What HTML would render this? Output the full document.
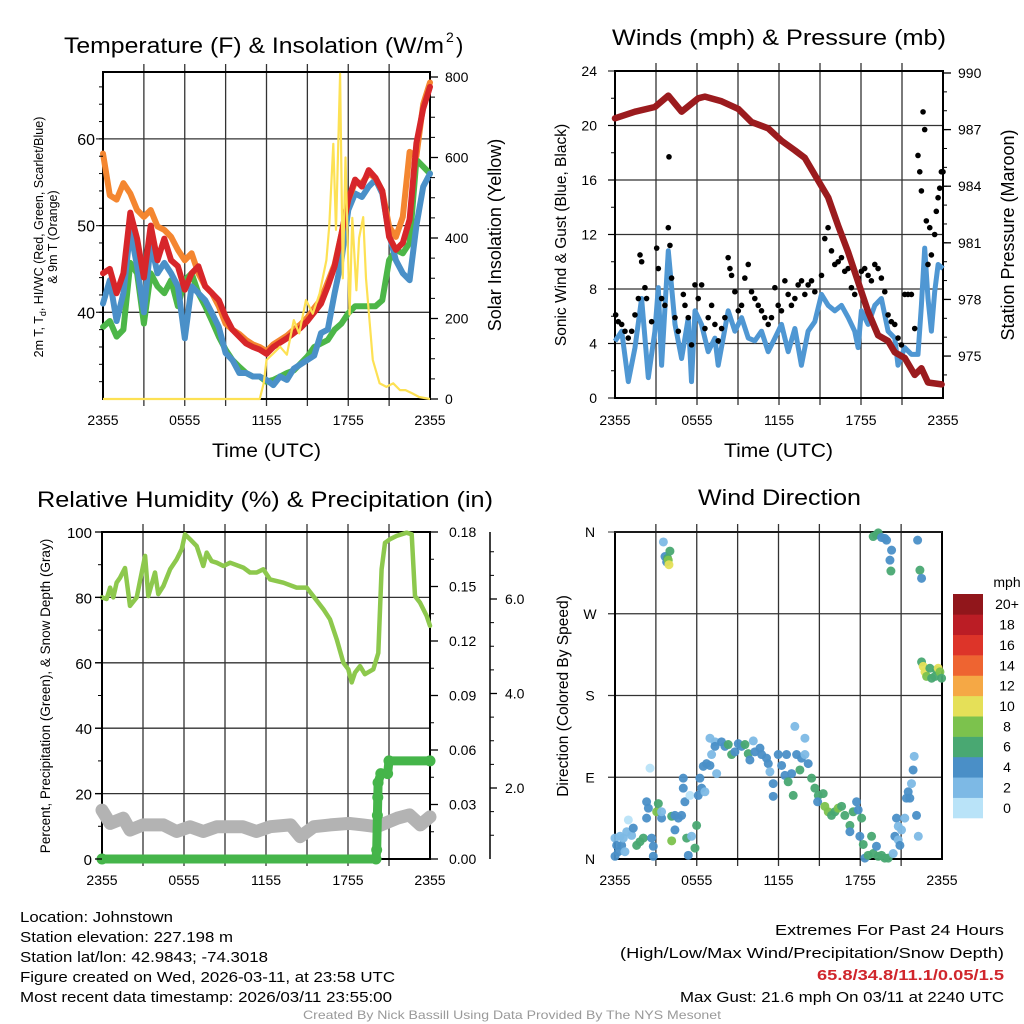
<!DOCTYPE html>
<html><head><meta charset="utf-8"><style>
html,body{margin:0;padding:0;background:#fff;}
svg{display:block;font-family:"Liberation Sans",Arial,sans-serif;}
</style></head><body>
<svg id="fig" width="1024" height="1024" viewBox="0 0 1024 1024" xmlns="http://www.w3.org/2000/svg">
<rect width="1024" height="1024" fill="#fff"/>
<g id="p1"></g>
<g id="p2"></g>
<g id="p3"></g>
<g id="p4"></g>
<g id="txt">
<text x="64" y="53" font-size="22" textLength="380" lengthAdjust="spacingAndGlyphs">Temperature (F) &amp; Insolation (W/m</text>
<text x="446" y="42" font-size="14">2</text>
<text x="456" y="53" font-size="22">)</text>
<text x="612" y="45" font-size="22" textLength="334" lengthAdjust="spacingAndGlyphs">Winds (mph) &amp; Pressure (mb)</text>
<text x="37" y="507" font-size="22" textLength="456" lengthAdjust="spacingAndGlyphs">Relative Humidity (%) &amp; Precipitation (in)</text>
<text x="698" y="505" font-size="22" textLength="163" lengthAdjust="spacingAndGlyphs">Wind Direction</text>
<text x="212" y="457" font-size="19" textLength="109" lengthAdjust="spacingAndGlyphs">Time (UTC)</text>
<text x="724" y="457" font-size="19" textLength="109" lengthAdjust="spacingAndGlyphs">Time (UTC)</text>
<text transform="translate(43,237) rotate(-90)" text-anchor="middle" font-size="12.5">2m T, T<tspan font-size="9" dy="3">d</tspan><tspan dy="-3">, HI/WC (Red, Green, Scarlet/Blue)</tspan></text>
<text transform="translate(57,237) rotate(-90)" text-anchor="middle" font-size="12.5">&amp; 9m T (Orange)</text>
<text transform="translate(501,235) rotate(-90)" text-anchor="middle" font-size="18">Solar Insolation (Yellow)</text>
<text transform="translate(566,235) rotate(-90)" text-anchor="middle" font-size="15.5">Sonic Wind &amp; Gust (Blue, Black)</text>
<text transform="translate(1014,235) rotate(-90)" text-anchor="middle" font-size="18">Station Pressure (Maroon)</text>
<text transform="translate(50,696) rotate(-90)" text-anchor="middle" font-size="13.5">Percent, Precipitation (Green), &amp; Snow Depth (Gray)</text>
<text transform="translate(568,696) rotate(-90)" text-anchor="middle" font-size="15.5">Direction (Colored By Speed)</text>
<g font-size="15">
<text x="20" y="922" textLength="153" lengthAdjust="spacingAndGlyphs">Location: Johnstown</text>
<text x="20" y="942" textLength="213" lengthAdjust="spacingAndGlyphs">Station elevation: 227.198 m</text>
<text x="20" y="962" textLength="248" lengthAdjust="spacingAndGlyphs">Station lat/lon: 42.9843; -74.3018</text>
<text x="20" y="982" textLength="375" lengthAdjust="spacingAndGlyphs">Figure created on Wed, 2026-03-11, at 23:58 UTC</text>
<text x="20" y="1002" textLength="372" lengthAdjust="spacingAndGlyphs">Most recent data timestamp: 2026/03/11 23:55:00</text>
<text x="775" y="935" textLength="229" lengthAdjust="spacingAndGlyphs">Extremes For Past 24 Hours</text>
<text x="620" y="958" textLength="384" lengthAdjust="spacingAndGlyphs">(High/Low/Max Wind/Precipitation/Snow Depth)</text>
<text x="817" y="980" fill="#d0262c" font-weight="bold" textLength="187" lengthAdjust="spacingAndGlyphs">65.8/34.8/11.1/0.05/1.5</text>
<text x="680" y="1002" textLength="324" lengthAdjust="spacingAndGlyphs">Max Gust: 21.6 mph On 03/11 at 2240 UTC</text>
</g>
<text x="303" y="1019" font-size="12" fill="#999" textLength="418" lengthAdjust="spacingAndGlyphs">Created By Nick Bassill Using Data Provided By The NYS Mesonet</text>
</g>
</svg>
<script>
// ===== Panel 1 data (half-hour steps from 2355) =====
const tempRed = [44.5,45,42.2,44.5,51.5,48.5,44,50,46,48.5,46,45.3,42.6,44.5,45.3,43,42.2,41.4,39.5,38,37.2,36.4,36,35.7,35.2,36,36.5,37,37.6,38.2,39,40,41,43,45.3,49,53,55.3,54.5,56.4,55.5,54,48.7,47.2,48,50.7,59.5,63.5,66];
const temp9m = [58.3,53.5,53,54.9,53.7,51.8,51,51.8,49.9,49.5,48.7,47.2,46,46.8,44.5,43,42.2,40.7,38.7,38,37.5,36.8,36.3,36,35.5,36.3,36.8,37.3,38,38.6,39.4,40.5,41.5,43.5,45.5,49,53,55,54.9,56,55.5,54,49.9,48.7,51,58.5,58,64,66.5];
const tempHiWc = [41,43.7,39,42.2,49.5,45.3,40,48,44.5,45.7,44.5,43,37,43,42.2,41.4,39.9,38.3,35.3,34.5,33,33,32.6,32.6,32.2,31.6,32.6,32.2,33.5,34,34.5,35,37.6,38,42.2,46,51.8,53.7,53.3,54.5,55.3,53.7,49,46,44.5,43.7,50,54.5,56];
const tempDew = [38.3,39,37.2,38,45.7,44.5,38.7,44.5,43,42.2,43.7,40.7,43.7,44.5,42.2,40.7,39,37.2,35.7,34.5,33.7,33,32.6,32.6,32,32.2,32.6,33,33.3,34.1,34.9,36,36.4,36.8,38,38.7,39.9,40.7,40.7,40.7,40.7,41.4,46,47.2,46.8,48,57.6,56.8,56];
const solarHours = [0,11.5,11.8,12,12.5,13,13.5,14,14.4,14.9,15.4,15.9,16.4,16.6,16.9,17.1,17.4,17.6,17.8,18.1,18.3,18.6,18.8,19.1,19.3,19.8,20.3,20.8,21.3,21.8,22.2,22.7,23.2,24];
const solarWm2 = [0,0,40,97,113,130,110,196,163,246,212,262,345,428,634,420,808,300,600,210,450,270,400,452,300,97,39,30,39,22,22,14,5,0];
const tempTicks = [40,50,60];
const solarTicks = [0,200,400,600,800];
const timeLabels = ['2355','0555','1155','1755','2355'];
const timeTickHours = [0,6,12,18,24];

// ===== Panel 2 data =====
const pressHours = [0,1.46,2.92,3.9,4.87,6.09,6.58,7.8,9.02,9.99,11.2,12.2,13.16,13.89,14.62,15.6,16.33,17.06,17.8,18.52,19.25,19.98,20.47,21.2,21.93,22.42,22.9,23.9];
const pressMb = [987.6,987.95,988.2,988.8,987.95,988.66,988.75,988.5,988.1,987.4,987.07,986.4,985.9,985.5,984.6,983.4,981.9,980.5,978.9,977.35,976.1,975.8,975.2,974.9,974,974.35,973.6,973.5];
const windHours = [0,0.49,0.97,1.46,1.95,2.44,2.92,3.17,3.41,3.9,4.39,4.87,5.36,5.6,5.85,6.33,6.82,7.31,7.55,8.28,8.77,9.26,9.75,10.23,10.72,11.21,11.7,12.18,12.67,13.16,13.64,14.13,14.62,15.11,15.6,16.08,16.57,17.06,17.54,17.79,18.03,18.52,19.01,19.49,19.98,20.47,20.71,21.2,21.69,22.17,22.42,22.66,22.9,23.15,23.39,23.64,24];
const windMph = [4.16,4.9,1.2,3.7,7.3,1.5,4.9,8.1,2.4,10.8,5.4,2.9,5.9,1.2,6.4,5.4,3.4,4.4,2.4,6.4,4.9,5.9,4.4,4.2,4.9,3.4,4.4,5.4,3.4,5.1,2.4,4.9,5.6,7.6,6.8,6.4,6.8,5.9,4.9,3.7,6.4,5.4,6.8,7.3,4.9,4.4,2.4,3.7,3.2,3.2,6.8,11,7.3,4.9,7.8,9.8,9.5];
const gustHours = [0.05,0.24,0.49,0.73,0.97,1.22,1.46,1.71,1.83,1.95,2.19,2.31,2.68,3.05,3.17,3.41,3.65,3.9,4.02,3.95,4.14,4.39,4.63,5,5.12,5.36,5.6,5.85,6.09,6.34,6.58,6.82,7.07,7.31,7.55,7.8,8.04,8.28,8.41,8.53,8.77,9.02,9.26,9.5,9.75,9.99,10.23,10.48,10.72,10.96,11.21,11.45,11.7,11.94,12.18,12.43,12.67,12.91,13.16,13.4,13.65,13.89,14.13,14.38,14.62,15.11,15.35,15.59,15.84,16.08,16.33,16.57,16.81,17.06,17.3,17.54,17.79,18.03,18.27,18.52,18.76,19.01,19.25,19.49,19.74,19.98,20.22,20.47,20.71,20.96,21.2,21.44,21.69,21.93,22.17,22.3,22.42,22.54,22.66,22.78,22.9,23.03,23.15,23.39,23.51,23.64,23.76,23.88,24];
const gustMph = [6.1,5.6,5.4,4.9,4.4,4.9,6.1,7.3,10.5,10,8.1,7.3,5.6,11,9.5,7.3,6.8,12.5,11.2,17.7,8.8,5.9,4.9,7.6,6.8,5.9,3.9,8.3,7.3,8.3,5.1,5.9,6.8,5.4,4.2,5.1,5.9,10.3,9.5,9,7.8,6.4,6.8,8.8,9.8,7.8,7.3,6.8,6.4,5.9,5.4,5.9,8.1,6.8,6.4,8.6,7.6,6.8,7.3,8.3,8.6,7.6,8.3,8.6,7.8,9,11.7,12.5,10.8,9.8,10,10.3,9.3,9.5,8.1,7.6,8.8,9.3,9.5,9,8.6,9.8,9.5,8.8,7.8,6.1,5.6,5.4,4.4,3.9,7.6,7.6,7.6,5.1,17.8,16.6,15.2,21,19.7,13,9.8,12.5,10.5,12,13.7,14.7,15.4,16.6,16.6];
const windTicks = [0,4,8,12,16,20,24];
const pressTicks = [975,978,981,984,987,990];

// ===== Panel 3 data =====
const rhHours = [0,0.34,0.59,0.83,1.07,1.32,1.68,2.05,2.54,2.78,3.15,3.39,3.88,4.12,4.49,4.98,5.46,5.83,6.07,6.44,6.93,7.41,7.66,8.02,8.39,8.88,9.37,10.34,10.83,11.32,11.8,12.29,13.27,14.24,14.98,15.46,16.2,16.68,17.17,17.66,18.02,18.27,18.51,18.88,19.24,19.85,20.22,20.46,20.71,21.07,21.56,22.29,22.66,22.9,23.27,23.76,24];
const rhPct = [80,79.5,83,80,84.5,86,89,77.4,80,85,92.7,80.4,87.6,81,83.5,88.6,91.6,94.7,99.3,97.8,95.7,89.6,93.7,91.1,90.6,89.6,90.6,89.1,87.6,87.6,88.6,85.5,84.5,83,83,80.4,76.4,73.3,67.2,60,58,54,57,59,56.5,58,63,88.6,96.7,97.8,98.8,99.8,99.3,80.4,78.4,74.3,71.3];
const precipHours = [0,20.05,20.1,20.15,20.18,20.2,20.4,20.9,21.0,24];
const precipIn = [0,0,0.005,0.024,0.034,0.042,0.047,0.047,0.054,0.054];
const snowHours = [0,0.59,1.56,2.05,3,4.5,5.46,6.44,7.41,8.4,10.3,11.3,12.3,13.8,14.5,15.5,16.7,18.1,19.1,20.1,21.6,22.5,23.3,24];
const snowIn = [1.53,1.25,1.36,1.11,1.22,1.22,1.08,1.18,1.08,1.18,1.18,1.08,1.18,1.22,0.97,1.18,1.22,1.25,1.22,1.18,1.36,1.43,1.22,1.39];
const rhTicks = [0,20,40,60,80,100];
const precipTicks = [0,0.03,0.06,0.09,0.12,0.15,0.18];
const precipLabels = ['0.00','0.03','0.06','0.09','0.12','0.15','0.18'];
const snowTicks = [2,4,6];
const snowLabels = ['2.0','4.0','6.0'];

// ===== Panel 4 data =====
const dirHours = [0,0.12,0.24,0,0.37,0.49,0.61,0.73,0.86,0.98,1.22,1.34,1.59,1.83,2.08,2.32,2.32,2.45,2.69,2.81,2.81,2.57,3.06,3.18,3.42,3.42,3.55,3.67,3.79,3.86,4.03,3.91,3.96,4.16,4.16,4.4,4.4,4.65,4.89,5.01,5.01,5.13,5.5,5.26,5.62,5.38,5.87,5.99,6.11,6.36,6.23,6.6,6.48,6.72,6.97,7.46,7.09,7.34,6.97,7.34,7.82,8.07,8.31,8.56,8.8,9.05,9.29,9.54,9.78,9.9,10.15,10.27,10.64,10.76,11.12,11.25,11.37,11.61,11.61,11.98,12.23,12.47,12.71,12.59,12.96,13.08,13.2,13.33,13.57,13.69,13.94,13.94,14.18,14.43,14.67,14.92,14.87,15.28,15.4,15.65,15.89,16.14,16.38,16.63,16.87,17.24,17.24,17.48,17.73,17.85,18.1,17.97,18.22,18.34,18.58,18.83,18.95,19.19,19.32,19.56,19.8,20.05,20.42,20.54,20.79,20.91,20.66,20.79,21.03,21.27,21.39,21.52,21.64,21.76,21.88,21.96,22.13,22.26,18.95,19.19,19.32,19.56,19.8,19.93,20.3,20.18,20.25,22.21,22.38,22.5,22.5,22.62,22.75,22.87,23.11,23.24,23.48,23.6,23.72,23.85,23.97];
const dirDeg = [23,15,8,3,25,15,23,8,30,43,26,34,15,19,23,45,63,56,23,14,3,100,52,61,45,52,349,333,327,331,339,329,324,20,47,48,32,45,48,89,78,63,70,23,25,4,12,37,70,78,89,74,102,105,103,94,115,129,133,124,129,124,126,115,118,127,124,126,116,109,130,118,122,115,111,105,96,83,69,115,103,92,85,115,94,70,146,115,98,111,133,115,105,89,78,70,63,72,58,52,48,52,56,58,48,37,30,52,63,54,45,25,16,1,4,25,6,14,3,4,1,1,6,25,21,15,45,36,32,45,67,74,67,83,98,113,48,25,355,357,359,354,353,351,340,329,317,351,318,309,217,212,206,201,210,199,201,208,210,206,199];
const dirSpeed = [3,5,5,5,3,5,3,3,3,1,3,5,7,7,7,5,5,5,5,5,5,1,9,7,5,3,3,5,5,7,7,9,11,9,7,5,5,5,5,5,5,5,1,7,3,5,7,7,5,5,5,3,5,5,5,3,3,3,3,5,5,5,7,7,5,5,5,7,7,5,3,5,5,5,5,5,3,5,5,5,5,5,7,5,5,7,3,5,7,5,3,3,5,7,7,7,5,7,9,9,7,7,9,7,7,7,5,7,5,5,7,5,7,5,7,7,7,5,7,7,7,7,3,5,3,5,5,3,3,3,5,5,5,3,5,3,5,3,7,7,7,5,5,5,5,5,7,5,7,5,7,11,11,9,7,7,7,7,11,9,7];
const speedBins = ['0','2','4','6','8','10','12','14','16','18','20+'];
const dirTicks = [0,90,180,270,360];
const dirLabels = ['N','E','S','W','N'];

const binColors = ['#b9e3f8','#7db9e5','#4a8fc7','#49a872','#7cc24d','#e5e058','#f5a845','#ee6431','#dd3429','#bb1d25','#91161b'];
const NS='http://www.w3.org/2000/svg';
function mk(parent,tag,attrs){const e=document.createElementNS(NS,tag);for(const k in attrs)e.setAttribute(k,attrs[k]);parent.appendChild(e);return e;}
function poly(h,v,fx,fy){return h.map((t,i)=>fx(t).toFixed(1)+','+fy(v[i]).toFixed(1)).join(' ');}

function frame(g,L,R,T,B,vx,hy,prefix){
  vx.forEach(x=>{const l=mk(g,'line',{x1:x,x2:x,y1:T-8,y2:B+7,stroke:'#333','stroke-width':1.3});
    
    });
  hy.forEach(y=>{const l=mk(g,'line',{x1:L-7,x2:R,y1:y,y2:y,stroke:'#333','stroke-width':1.3});
    
    });
  const r=mk(g,'rect',{x:L,y:T,width:R-L,height:B-T,fill:'none',stroke:'#000','stroke-width':2});
  
  
}
function label(g,x,y,s,anchor,size,name){const t=mk(g,'text',{x:x,y:y,'text-anchor':anchor,'font-size':size||14});t.textContent=s;
  
  return t;}

// ===== Panel 1 =====
(function(){
  const g=document.getElementById('p1');
  const L=103,R=430,T=72,B=399;
  const x=h=>L+h/24*(R-L);
  const yT=v=>B-(v-30)*8.67;
  const yS=w=>B-w*0.4025;
  const vx=[];for(let h=3;h<24;h+=3)vx.push(x(h));
  frame(g,L,R,T,B,vx,tempTicks.map(yT),'p1');
  const half=tempRed.map((_,i)=>i*0.5);
  [[tempDew,'#4cb648','dewpoint-line'],[tempHiWc,'#4a90c8','heat-index-wind-chill-line'],[temp9m,'#f48630','temperature-9m-line'],[tempRed,'#d7262a','temperature-2m-line']].forEach(s=>{
    const p=mk(g,'polyline',{points:poly(half,s[0],x,yT),fill:'none',stroke:s[1],'stroke-width':6,'stroke-linejoin':'round','stroke-linecap':'round'});
    
    
  });
  const sp=mk(g,'polyline',{points:poly(solarHours,solarWm2,x,yS),fill:'none',stroke:'#fde154','stroke-width':2.2,'stroke-linejoin':'round'});
  
  
  tempTicks.forEach(v=>label(g,95,yT(v)+6,String(v),'end',16,'p1-y-tick-label'));
  for(let v=32;v<68;v+=2){mk(g,'line',{x1:L-4,x2:L,y1:yT(v),y2:yT(v),stroke:'#000'});}
  solarTicks.forEach(v=>{label(g,445,yS(v)+5,String(v),'start',14,'p1-y2-tick-label');mk(g,'line',{x1:R,x2:R+8,y1:yS(v),y2:yS(v),stroke:'#000','stroke-width':1.3});});
  for(let v=50;v<800;v+=50){mk(g,'line',{x1:R,x2:R+5,y1:yS(v),y2:yS(v),stroke:'#000'});}
  timeTickHours.forEach((h,i)=>label(g,x(h),425,timeLabels[i],'middle',14,'p1-x-tick-label'));
})();

// ===== Panel 2 =====
(function(){
  const g=document.getElementById('p2');
  const L=615,R=943,T=71,B=398;
  const x=h=>L+h/24*(R-L);
  const yW=m=>B-m*(B-T)/24;
  const yP=p=>73+(990-p)*18.87;
  const vx=[];for(let h=3;h<24;h+=3)vx.push(x(h));
  frame(g,L,R,T,B,vx,windTicks.slice(1,-1).map(yW),'p2');
  const wl=mk(g,'polyline',{points:poly(windHours,windMph,x,yW),fill:'none',stroke:'#4f97d3','stroke-width':5,'stroke-linejoin':'round'});
  
  
  const n=Math.min(gustHours.length,gustMph.length);
  for(let i=0;i<n;i++){const c=mk(g,'circle',{cx:x(gustHours[i]),cy:yW(gustMph[i]),r:2.8,fill:'#000'});
    
    }
  const pl=mk(g,'polyline',{points:poly(pressHours,pressMb,x,yP),fill:'none',stroke:'#9b1b1e','stroke-width':6.5,'stroke-linejoin':'round','stroke-linecap':'round'});
  
  
  windTicks.forEach(v=>{label(g,597,yW(v)+5,String(v),'end',14,'p2-y-tick-label');mk(g,'line',{x1:L-7,x2:L,y1:yW(v),y2:yW(v),stroke:'#000'});});
  for(let v=2;v<24;v+=4)mk(g,'line',{x1:L-4,x2:L,y1:yW(v),y2:yW(v),stroke:'#000'});
  pressTicks.forEach(v=>{label(g,958,yP(v)+5,String(v),'start',14,'p2-y2-tick-label');mk(g,'line',{x1:R,x2:R+8,y1:yP(v),y2:yP(v),stroke:'#000','stroke-width':1.3});});
  for(let v=974;v<990;v++)mk(g,'line',{x1:R,x2:R+4,y1:yP(v),y2:yP(v),stroke:'#000'});
  timeTickHours.forEach((h,i)=>label(g,x(h),425,timeLabels[i],'middle',14,'p2-x-tick-label'));
})();

// ===== Panel 3 =====
(function(){
  const g=document.getElementById('p3');
  const L=102,R=430,T=532,B=859;
  const x=h=>L+h/24*(R-L);
  const yR=r=>B-r*(B-T)/100;
  const yPr=p=>yR(p/0.18*100);
  const ySn=v=>788-(v-2)*47.25;
  const vx=[];for(let h=3;h<24;h+=3)vx.push(x(h));
  frame(g,L,R,T,B,vx,rhTicks.slice(1,-1).map(yR),'p3');
  const sn=mk(g,'polyline',{points:poly(snowHours,snowIn,x,ySn),fill:'none',stroke:'#b3b3b3','stroke-width':13,'stroke-linejoin':'round','stroke-linecap':'round'});
  
  
  const pr=mk(g,'polyline',{points:poly(precipHours,precipIn,x,yPr),fill:'none',stroke:'#45b54a','stroke-width':9,'stroke-linejoin':'round','stroke-linecap':'round'});
  
  
  precipHours.forEach((h,i)=>{const c=mk(g,'circle',{cx:x(h),cy:yPr(precipIn[i]),r:5.5,fill:'#45b54a'});
    
    });
  const rh=mk(g,'polyline',{points:poly(rhHours,rhPct,x,yR),fill:'none',stroke:'#8dc84d','stroke-width':4.5,'stroke-linejoin':'round','stroke-linecap':'round'});
  
  
  rhTicks.forEach(v=>{label(g,92,yR(v)+6,String(v),'end',15,'p3-y-tick-label');mk(g,'line',{x1:L-7,x2:L,y1:yR(v),y2:yR(v),stroke:'#000','stroke-width':1.3});});
  for(let v=10;v<100;v+=20)mk(g,'line',{x1:L-4,x2:L,y1:yR(v),y2:yR(v),stroke:'#000'});
  precipTicks.forEach((v,i)=>{label(g,449,yPr(v)+5,precipLabels[i],'start',14,'p3-y2-tick-label');mk(g,'line',{x1:R,x2:R+8,y1:yPr(v),y2:yPr(v),stroke:'#000','stroke-width':1.3});});
  for(let v=0.015;v<0.18;v+=0.03)mk(g,'line',{x1:R,x2:R+4,y1:yPr(v),y2:yPr(v),stroke:'#000'});
  const sa=mk(g,'line',{x1:490,x2:490,y1:T,y2:B,stroke:'#000','stroke-width':1.5});
  
  
  snowTicks.forEach((v,i)=>{label(g,505,ySn(v)+5,snowLabels[i],'start',14,'p3-y3-tick-label');mk(g,'line',{x1:490,x2:497,y1:ySn(v),y2:ySn(v),stroke:'#000','stroke-width':1.3});});
  for(let v=1;v<7.3;v+=0.5){if(v%2)mk(g,'line',{x1:490,x2:494,y1:ySn(v),y2:ySn(v),stroke:'#000'});}
  timeTickHours.forEach((h,i)=>label(g,x(h),885,timeLabels[i],'middle',14,'p3-x-tick-label'));
})();

// ===== Panel 4 =====
(function(){
  const g=document.getElementById('p4');
  const L=615,R=942,T=532,B=859;
  const x=h=>L+h/24*(R-L);
  const yD=d=>B-d/360*(B-T);
  const vx=[];for(let h=3;h<24;h+=3)vx.push(x(h));
  frame(g,L,R,T,B,vx,dirTicks.slice(1,-1).map(yD),'p4');
  mk(g,'line',{x1:L-7,x2:R,y1:T,y2:T,stroke:'#333'});
  const bin=s=>Math.min(10,Math.floor(s/2));
  dirHours.forEach((h,i)=>{const c=mk(g,'circle',{cx:x(h),cy:yD(dirDeg[i]),r:4.5,fill:binColors[bin(dirSpeed[i])],'fill-opacity':0.95});
    
    });
  dirTicks.forEach((v,i)=>label(g,590,yD(v)+5,dirLabels[i],'middle',14,'p4-y-tick-label'));
  timeTickHours.forEach((h,i)=>label(g,x(h),885,timeLabels[i],'middle',14,'p4-x-tick-label'));
  // colorbar
  const cb=mk(g,'g',{});
  
  
  const bh=(818-594)/11;
  speedBins.forEach((s,i)=>{
    const yy=818-(i+1)*bh;
    const r=mk(cb,'rect',{x:953,y:yy,width:30,height:bh+0.3,fill:binColors[i]});
    
    
    label(cb,1007,yy+bh/2+5,s,'middle',14,'colorbar-label');
  });
  label(cb,1007,587,'mph','middle',14,'colorbar-title');
})();
</script>
</body></html>
